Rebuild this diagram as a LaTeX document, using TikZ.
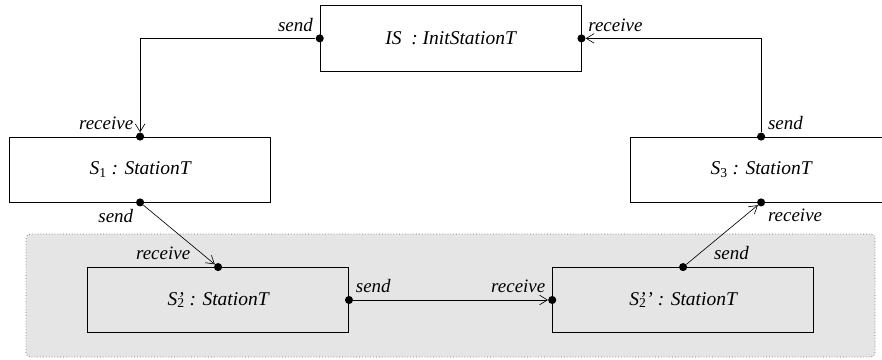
\documentclass[tikz,border=0pt]{standalone}
\usepackage{fontspec}
\setmainfont{Liberation Serif}
\usetikzlibrary{arrows.meta}
\tikzset{
  comp/.style={draw,line width=0.7pt,minimum width=8.7cm,minimum height=2.17cm,
    font=\itshape\fontsize{18.5}{20}\selectfont},
  port/.style={circle,fill,inner sep=0pt,minimum size=0.27cm},
  lbl/.style={font=\itshape\fontsize{18}{20}\selectfont,inner sep=3.5pt},
  msg/.style={-{Straight Barb[length=2.6mm,width=3.2mm]},line width=0.6pt},
}
% instance name: S, upright index, primes
\newcommand{\inst}[2]{S#2\textsubscript{\upshape #1}}
\begin{document}
\begin{tikzpicture}
\useasboundingbox (0,0) rectangle (29.4,-11.967);
% the refined part
\draw[fill=black!10,draw=black!55,dotted,line width=0.7pt,rounded corners=4pt]
  (0.87,-7.8) rectangle (29.17,-11.9);
% components
\node[comp] (IS) at (15.02,-1.28) {IS~~: InitStationT};
\node[comp] (S1) at (4.67,-5.65) {\inst{1}{} : StationT};
\node[comp] (S3) at (25.37,-5.65) {\inst{3}{} : StationT};
\node[comp] (S2a) at (7.27,-10) {\inst{2}{\rlap{'}} : StationT};
\node[comp] (S2b) at (22.77,-10) {\inst{2}{\rlap{'}}' : StationT};
% ports
\node[port,label={[lbl]above left:send}] (ISs) at (IS.west) {};
\node[port,label={[lbl]above right:receive}] (ISr) at (IS.east) {};
\node[port,label={[lbl]above left:receive}] (S1r) at (S1.north) {};
\node[port,label={[lbl]below left:send}] (S1s) at (S1.south) {};
\node[port,label={[lbl]above right:send}] (S3s) at (S3.north) {};
\node[port,label={[lbl]below right:receive}] (S3r) at (S3.south) {};
\node[port,label={[lbl,xshift=-0.7cm]above left:receive}] (S2ar) at (S2a.north) {};
\node[port,label={[lbl]above right:send}] (S2as) at (S2a.east) {};
\node[port,label={[lbl]above left:receive}] (S2br) at (S2b.west) {};
\node[port,label={[lbl,xshift=0.8cm]above right:send}] (S2bs) at (S2b.north) {};
% messages
\draw[msg] (ISs) -| (S1r);
\draw[msg] (S1s) -- (S2ar);
\draw[msg] (S2as) -- (S2br);
\draw[msg] (S2bs) -- (S3r);
\draw[msg] (S3s) |- (ISr);
\end{tikzpicture}
\end{document}
